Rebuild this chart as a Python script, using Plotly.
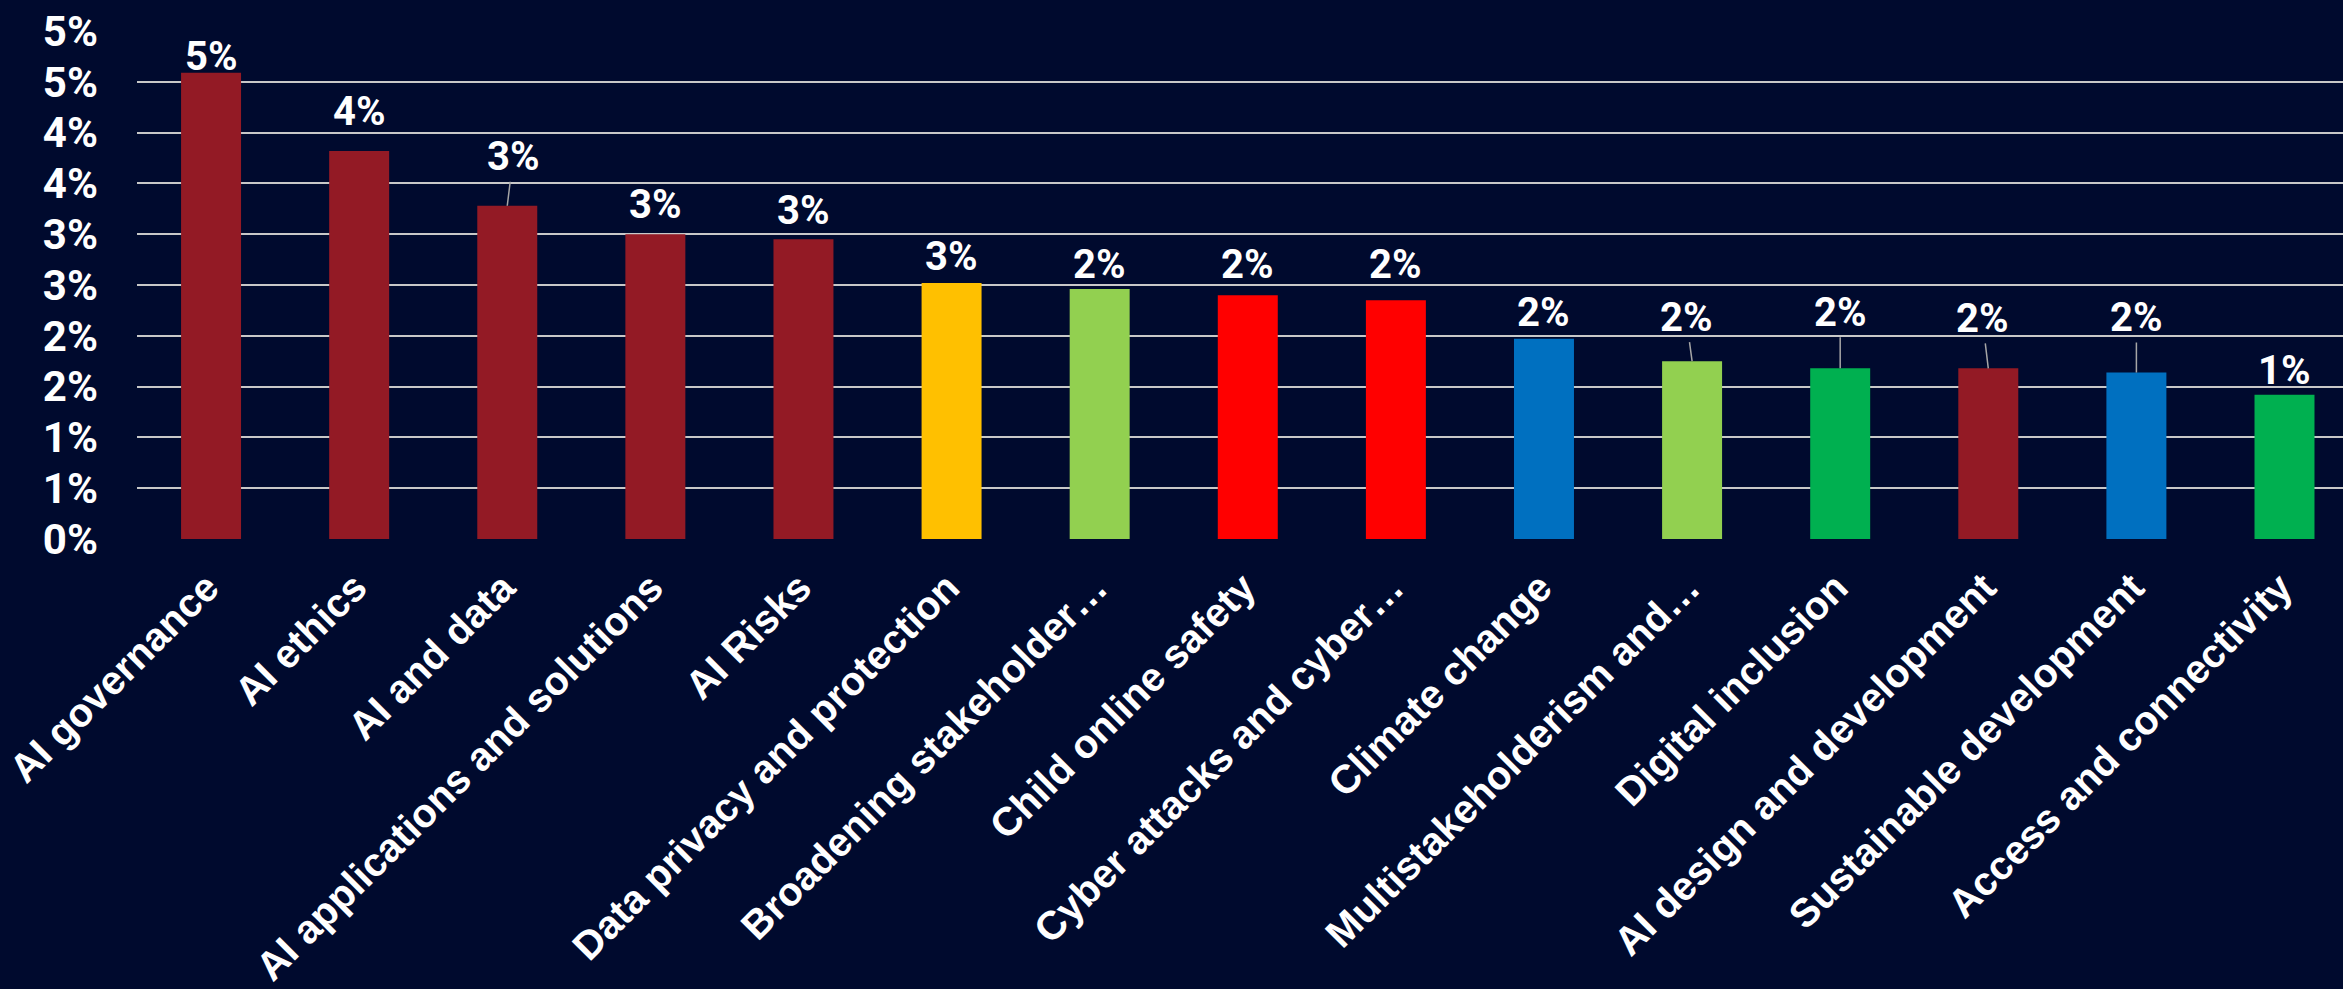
import plotly.graph_objects as go

categories = [
    "AI governance", "AI ethics", "AI and data", "AI applications and solutions",
    "AI Risks", "Data privacy and protection", "Broadening stakeholder…",
    "Child online safety", "Cyber attacks and cyber…", "Climate change",
    "Multistakeholderism and…", "Digital inclusion", "AI design and development",
    "Sustainable development", "Access and connectivity",
]
share_pct = [4.59, 3.82, 3.28, 3.00, 2.95, 2.52, 2.46, 2.40, 2.35, 1.97,
             1.75, 1.68, 1.68, 1.64, 1.42]
bar_colors = ["#931A25", "#931A25", "#931A25", "#931A25", "#931A25", "#FFC000",
              "#92D050", "#FF0000", "#FF0000", "#0070C0", "#92D050", "#00B050",
              "#931A25", "#0070C0", "#00B050"]
y_tick_vals = [0, 0.5, 1, 1.5, 2, 2.5, 3, 3.5, 4, 4.5, 5]
y_tick_text = ["0%", "1%", "1%", "2%", "2%", "3%", "3%", "4%", "4%", "5%", "5%"]

# label placement (pixel offsets of label centre from bar top) and leader-line flags
label_dx = [0, 0, 6, 0, 0, 0, 0, 0, 0, 0, -6, 0, -6, 0, 0]
label_dy = [-16, -39, -49, -30, -29, -26, -25, -31, -36, -26, -44, -56, -50, -55, -24]
leader = [False, False, True, False, False, False, False, False, False, False,
          True, True, True, True, False]

BG = "#000A2E"

fig = go.Figure(go.Bar(
    x=categories, y=share_pct, marker=dict(color=bar_colors, line=dict(width=0)),
    hoverinfo="x+y",
))

for c, v, dx, dy, ld in zip(categories, share_pct, label_dx, label_dy, leader):
    fig.add_annotation(
        x=c, y=v, text=f"{int(v + 0.5)}%", showarrow=True, ax=dx, ay=dy,
        arrowhead=0, arrowwidth=1.5, standoff=0,
        arrowcolor="#A6A6A6" if ld else "rgba(0,0,0,0)",
        font=dict(family="Roboto", size=40, color="white", weight="bold"),
    )

fig.update_layout(
    width=2343, height=989,
    paper_bgcolor=BG, plot_bgcolor=BG,
    margin=dict(l=137, r=0, t=31, b=450, autoexpand=False),
    bargap=0.595, showlegend=False,
    xaxis=dict(
        range=[-0.5, 14.395], tickangle=-45, showgrid=False, zeroline=False,
        showline=False, ticks="", automargin=False,
        tickfont=dict(family="Liberation Sans", size=40, color="white", weight="bold"),
        ticklabelstandoff=16, ticklabelshift=-4,
    ),
    yaxis=dict(
        range=[0, 5], tickvals=y_tick_vals, ticktext=y_tick_text,
        showgrid=True, gridcolor="#C8C8C8", gridwidth=2, zeroline=False,
        showline=False, ticks="", automargin=False,
        tickfont=dict(family="Roboto", size=42, color="white", weight="bold"),
        ticklabelstandoff=38,
    ),
)

fig.write_html(
    "out.html",
    config={"displayModeBar": False},
    post_script="document.body.style.margin='0';document.body.style.background='%s';" % BG,
)
